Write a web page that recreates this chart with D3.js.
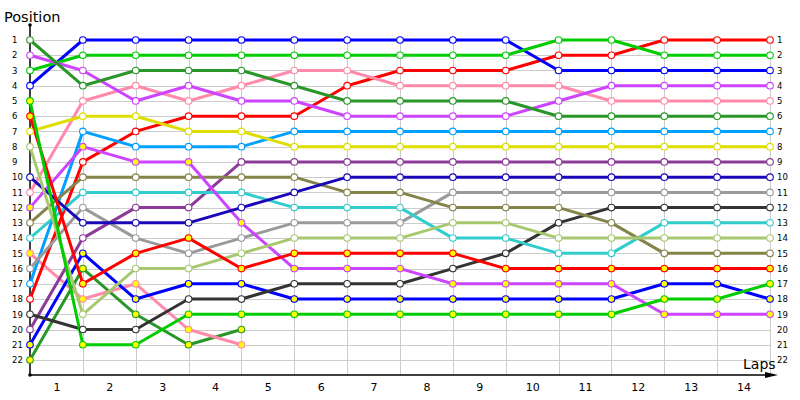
<!DOCTYPE html>
<html><head><meta charset="utf-8">
<script src="https://cdn.jsdelivr.net/npm/d3@7"></script>
<style>
html,body{margin:0;padding:0;background:#fff;}
svg{display:block;}
text{font-family:"DejaVu Sans",Verdana,sans-serif;}
</style></head>
<body><svg id="chart" width="800" height="400"></svg>
<script>
// ---- data ----
const lapColumns = [0,1,2,3,4,5,6,7,8,9,10,11,12,13,14];
const lapLabels = ["1","2","3","4","5","6","7","8","9","10","11","12","13","14"];
const positionTicks = [1,2,3,4,5,6,7,8,9,10,11,12,13,14,15,16,17,18,19,20,21,22];

const darkGreenA = [1,4,3,3,3,4,5,5,5,5,6,6,6,6,6];
const violetA    = [2,3,5,4,5,5,6,6,6,6,5,4,4,4,4];
const greenA     = [3,2,2,2,2,2,2,2,2,2,1,1,2,2,2];
const blueA      = [4,1,1,1,1,1,1,1,1,1,3,3,3,3,3];
const greenB     = [5,21,21,19,19,19,19,19,19,19,19,19,18,18,17];
const redA       = [6,17,15,14,16,15,15,15,15,16,16,16,16,16,16];
const yellowA    = [7,6,6,7,7,8,8,8,8,8,8,8,8,8,8];
const lightGreen = [8,19,16,16,15,14,14,14,13,13,14,14,14,14,14];
const navy       = [10,13,13,13,12,11,10,10,10,10,10,10,10,10,10];
const pinkA      = [11,5,4,5,4,3,3,4,4,4,4,5,5,5,5];
const violetB    = [12,8,9,9,13,16,16,16,17,17,17,17,19,19,19];
const olive      = [13,10,10,10,10,10,11,11,12,12,12,13,15,15,15];
const cyan       = [14,11,11,11,11,12,12,12,14,14,15,15,13,13,13];
const pinkB      = [15,18,17,20,21,null,null,null,null,null,null,null,null,null,null];
const grayA      = [16,12,14,15,14,13,13,13,11,11,11,11,11,11,11];
const lightBlue  = [17,7,8,8,8,7,7,7,7,7,7,7,7,7,7];
const redB       = [18,9,7,6,6,6,4,3,3,3,2,2,1,1,1];
const darkGray   = [19,20,20,18,18,17,17,17,16,15,13,12,12,12,12];
const purple     = [20,14,12,12,9,9,9,9,9,9,9,9,9,9,9];
const blueB      = [21,15,18,17,17,18,18,18,18,18,18,18,17,17,18];
const darkGreenB = [22,16,19,21,20,null,null,null,null,null,null,null,null,null,null];

// series list (values, colour, marker fill)
const series = [
  {v: darkGreenB, c:"#2a962a", f:"#ffff00"},
  {v: pinkB,      c:"#ff8aaa", f:"#ffff00"},
  {v: blueB,      c:"#0000ff", f:"#ffff00"},
  {v: purple,     c:"#8b3a98", f:"#ffffff"},
  {v: darkGray,   c:"#333333", f:"#ffffff"},
  {v: redB,       c:"#ff0000", f:"#ffffff"},
  {v: lightBlue,  c:"#00a0ff", f:"#ffffff"},
  {v: grayA,      c:"#9a9a9a", f:"#ffffff"},
  {v: cyan,       c:"#33cccc", f:"#ffffff"},
  {v: olive,      c:"#84844a", f:"#ffffff"},
  {v: violetB,    c:"#cc44ff", f:"#ffff00"},
  {v: pinkA,      c:"#ff8aaa", f:"#ffffff"},
  {v: navy,       c:"#1a08b8", f:"#ffffff"},
  {v: lightGreen, c:"#a8c870", f:"#ffffff"},
  {v: yellowA,    c:"#dddd00", f:"#ffffff"},
  {v: redA,       c:"#ff0000", f:"#ffff00"},
  {v: greenB,     c:"#00cc00", f:"#ffff00"},
  {v: blueA,      c:"#0000ff", f:"#ffffff"},
  {v: greenA,     c:"#00cc00", f:"#ffffff"},
  {v: violetA,    c:"#cc44ff", f:"#ffffff"},
  {v: darkGreenA, c:"#2a962a", f:"#ffffff"}
];

// ---- layout ----
const svg = d3.select("#chart");
const x = d3.scaleLinear().domain([0,14]).range([30,770]);
const y = d3.scaleLinear().domain([1,22]).range([40,360]);
const axisY = 375;

// grid
const grid = svg.append("g").attr("stroke","#cccccc").attr("stroke-width",1);
grid.selectAll("line.h").data(positionTicks).join("line")
  .attr("x1",x(0)).attr("x2",x(14))
  .attr("y1",d=>Math.round(y(d))+0.5).attr("y2",d=>Math.round(y(d))+0.5);
grid.selectAll("line.v").data(lapColumns.slice(1)).join("line")
  .attr("x1",d=>Math.round(x(d))+0.5).attr("x2",d=>Math.round(x(d))+0.5)
  .attr("y1",y(1)).attr("y2",axisY);

// axes lines
svg.append("line").attr("x1",30).attr("x2",30).attr("y1",25).attr("y2",axisY)
  .attr("stroke","#000").attr("stroke-width",1.5);
svg.append("line").attr("x1",30).attr("x2",768).attr("y1",axisY).attr("y2",axisY)
  .attr("stroke","#000").attr("stroke-width",1.5);
svg.append("path").attr("d",`M765,${axisY-3} L778,${axisY} L765,${axisY+3} Z`).attr("fill","#000");
svg.append("circle").attr("cx",30).attr("cy",25).attr("r",1.8).attr("fill","#000");
svg.append("circle").attr("cx",30).attr("cy",axisY).attr("r",1.8).attr("fill","#000");

// left position labels
const leftAxis = svg.append("g").attr("transform","translate(12,0)")
  .call(d3.axisRight(y).tickValues(positionTicks).tickSize(0).tickPadding(0));
const rightAxis = svg.append("g").attr("transform","translate(770,0)")
  .call(d3.axisRight(y).tickValues(positionTicks).tickSize(0).tickPadding(7));
[leftAxis,rightAxis].forEach(g=>{
  g.select(".domain").remove();
  g.selectAll("text").attr("font-family","DejaVu Sans, sans-serif").attr("font-size","8.5px").attr("fill","#000");
});

// lap labels (between columns)
const xb = svg.append("g").attr("transform",`translate(0,${axisY})`)
  .call(d3.axisBottom(x).tickValues(lapLabels.map((d,i)=>i+0.5)).tickFormat((d,i)=>lapLabels[i]).tickSize(0).tickPadding(8));
xb.select(".domain").remove();
xb.selectAll("text").attr("font-family","DejaVu Sans, sans-serif").attr("font-size","11px").attr("fill","#000");

// titles
svg.append("text").attr("x",4).attr("y",22).attr("font-size","14.5px").text("Position");
svg.append("text").attr("x",743).attr("y",369).attr("font-size","14px").text("Laps");

// lines
const line = d3.line().defined(d=>d!=null).x((d,i)=>x(lapColumns[i])).y(d=>y(d));
svg.append("g").selectAll("path").data(series).join("path")
  .attr("d",s=>line(s.v)).attr("fill","none").attr("stroke",s=>s.c)
  .attr("stroke-width",3).attr("stroke-linejoin","round");

// markers
const mk = svg.append("g");
series.forEach(s=>{
  mk.append("g").selectAll("circle")
    .data(s.v.map((d,i)=>({p:d,l:lapColumns[i]})).filter(d=>d.p!=null))
    .join("circle")
    .attr("cx",d=>x(d.l)).attr("cy",d=>y(d.p)).attr("r",3.3)
    .attr("fill",s.f).attr("stroke",s.c).attr("stroke-width",1.1);
});
</script></body></html>
